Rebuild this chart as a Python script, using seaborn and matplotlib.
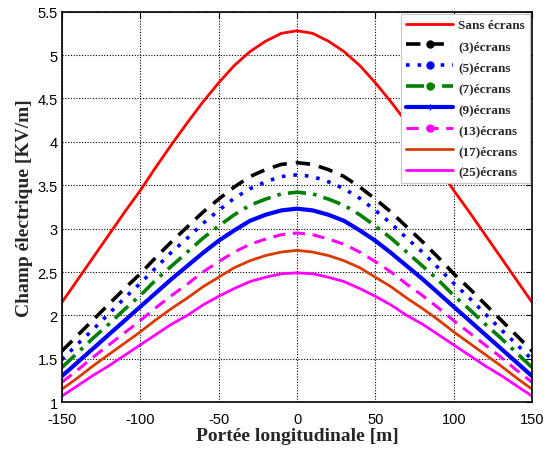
import matplotlib
matplotlib.use("Agg")
import matplotlib.pyplot as plt
from matplotlib.lines import Line2D
import pandas as pd
import seaborn as sns

# Longitudinal position along the span [m]
portee = list(range(-150, 151, 10))

# Electric field at ground level [kV/m] for each screen configuration
sans_ecrans = [2.15, 2.41, 2.67, 2.93, 3.19, 3.44, 3.71, 3.97, 4.22, 4.46, 4.68, 4.88, 5.04, 5.16, 5.25, 5.28,
               5.25, 5.16, 5.04, 4.88, 4.68, 4.46, 4.22, 3.97, 3.71, 3.44, 3.19, 2.93, 2.67, 2.41, 2.15]
ecrans_3 = [1.59, 1.77, 1.95, 2.13, 2.31, 2.48, 2.67, 2.85, 3.02, 3.19, 3.34, 3.48, 3.60, 3.68, 3.74, 3.76,
            3.74, 3.68, 3.60, 3.48, 3.34, 3.19, 3.02, 2.85, 2.67, 2.48, 2.31, 2.13, 1.95, 1.77, 1.59]
ecrans_5 = [1.49, 1.67, 1.84, 2.02, 2.20, 2.37, 2.55, 2.73, 2.89, 3.06, 3.21, 3.35, 3.46, 3.54, 3.60, 3.62,
            3.60, 3.54, 3.46, 3.35, 3.21, 3.06, 2.89, 2.73, 2.55, 2.37, 2.20, 2.02, 1.84, 1.67, 1.49]
ecrans_7 = [1.40, 1.57, 1.74, 1.90, 2.07, 2.23, 2.41, 2.57, 2.73, 2.89, 3.03, 3.16, 3.27, 3.34, 3.40, 3.42,
            3.40, 3.34, 3.27, 3.16, 3.03, 2.89, 2.73, 2.57, 2.41, 2.23, 2.07, 1.90, 1.74, 1.57, 1.40]
ecrans_9 = [1.30, 1.46, 1.62, 1.78, 1.94, 2.10, 2.26, 2.42, 2.57, 2.72, 2.86, 2.98, 3.09, 3.16, 3.21, 3.23,
            3.21, 3.16, 3.09, 2.98, 2.86, 2.72, 2.57, 2.42, 2.26, 2.10, 1.94, 1.78, 1.62, 1.46, 1.30]
ecrans_13 = [1.23, 1.37, 1.52, 1.66, 1.80, 1.94, 2.09, 2.23, 2.36, 2.50, 2.62, 2.73, 2.82, 2.88, 2.93, 2.95,
             2.93, 2.88, 2.82, 2.73, 2.62, 2.50, 2.36, 2.23, 2.09, 1.94, 1.80, 1.66, 1.52, 1.37, 1.23]
ecrans_17 = [1.15, 1.28, 1.42, 1.55, 1.68, 1.81, 1.95, 2.08, 2.20, 2.33, 2.44, 2.55, 2.63, 2.69, 2.73, 2.75,
             2.73, 2.69, 2.63, 2.55, 2.44, 2.33, 2.20, 2.08, 1.95, 1.81, 1.68, 1.55, 1.42, 1.28, 1.15]
ecrans_25 = [1.07, 1.19, 1.31, 1.42, 1.54, 1.66, 1.78, 1.90, 2.00, 2.12, 2.22, 2.31, 2.39, 2.44, 2.48, 2.49,
             2.48, 2.44, 2.39, 2.31, 2.22, 2.12, 2.00, 1.90, 1.78, 1.66, 1.54, 1.42, 1.31, 1.19, 1.07]

labels = ["Sans écrans", "(3)écrans", "(5)écrans", "(7)écrans",
          "(9)écrans", "(13)écrans", "(17)écrans", "(25)écrans"]
series = [sans_ecrans, ecrans_3, ecrans_5, ecrans_7, ecrans_9, ecrans_13, ecrans_17, ecrans_25]

x_ticks = [-150, -100, -50, 0, 50, 100, 150]
y_ticks = [1, 1.5, 2, 2.5, 3, 3.5, 4, 4.5, 5, 5.5]

styles = [
    dict(color="#ff0000", linestyle="-", lw=2.0, marker=None),
    dict(color="#000000", linestyle=(0, (4, 2.5)), lw=2.6, marker="o"),
    dict(color="#0000ff", linestyle=(0, (1, 2.2)), lw=2.6, marker="o"),
    dict(color="#008000", linestyle=(0, (5, 2, 1, 2)), lw=2.6, marker="o"),
    dict(color="#0000ff", linestyle="-", lw=3.0, marker="+"),
    dict(color="#ff00ff", linestyle=(0, (4, 2.5)), lw=2.2, marker="o"),
    dict(color="#d83b01", linestyle="-", lw=2.0, marker=None),
    dict(color="#ff00ff", linestyle="-", lw=2.0, marker=None),
]

sns.set_theme(style="white")
plt.rcParams["font.family"] = ["Liberation Sans", "DejaVu Sans"]

df = pd.DataFrame({"x": portee})
for lab, vals in zip(labels, series):
    df[lab] = vals

fig = plt.figure(figsize=(5.48, 4.52), dpi=100)
ax = fig.add_axes([0.113, 0.108, 0.858, 0.864])

for lab, st in zip(labels, styles):
    sns.lineplot(data=df, x="x", y=lab, ax=ax, color=st["color"],
                 linestyle=st["linestyle"], linewidth=st["lw"])

ax.set_xlim(-150, 150)
ax.set_ylim(1, 5.5)
ax.set_xticks(x_ticks)
ax.set_yticks(y_ticks)
ax.set_xticklabels([f"{v:g}" for v in x_ticks])
ax.set_yticklabels([f"{v:g}" for v in y_ticks])
ax.grid(True, color="black", linestyle=(0, (1, 1.5)), linewidth=0.8)
ax.tick_params(direction="in", length=4, width=0.8, top=True, right=True,
               labelsize=10.5, colors="black")
ax.tick_params(axis="x", pad=7)
ax.tick_params(axis="y", pad=3)
for sp in ax.spines.values():
    sp.set_color("black")
    sp.set_linewidth(1.2)

serif = ["Liberation Serif", "DejaVu Serif"]
ax.set_xlabel("Portée longitudinale [m]", fontsize=14, fontweight="bold",
              family=serif, labelpad=1)
ax.set_ylabel("Champ électrique [KV/m]", fontsize=14, fontweight="bold",
              family=serif, labelpad=3)

handles = []
for lab, st in zip(labels, styles):
    h = Line2D([0, 1], [0, 0], color=st["color"], linestyle=st["linestyle"],
               linewidth=st["lw"], marker=st["marker"], markersize=5,
               markevery=[1] if st["marker"] else None)
    handles.append(h)

leg = ax.legend(handles=handles, labels=labels, loc="upper right",
                prop=dict(family=serif, weight="bold", size=9.5),
                frameon=True, fancybox=False, framealpha=1, edgecolor="#c8c8c8",
                handlelength=3.6, handletextpad=0.35, labelspacing=0.66,
                borderpad=0.4, borderaxespad=0.15)
leg.get_frame().set_linewidth(0.8)

fig.savefig("out.png", dpi=100)
